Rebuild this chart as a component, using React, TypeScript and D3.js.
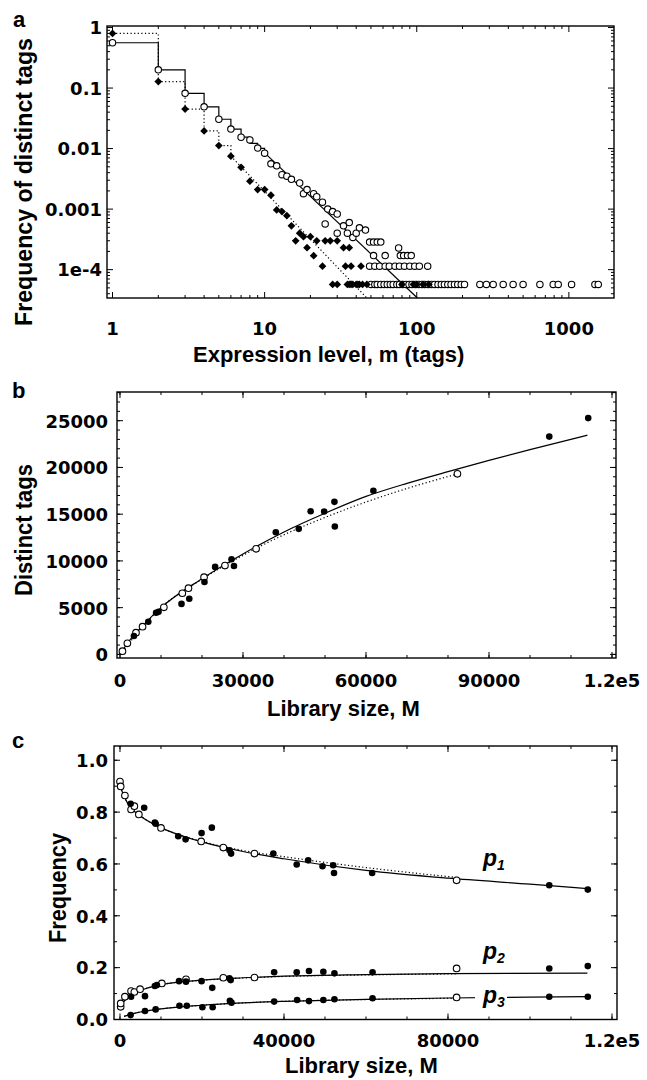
import React from "react";
import * as d3 from "d3";

// ---------------- Panel a: frequency of distinct tags vs expression level ----------------
// open circles (one library), [m, frequency]
const openA: [number, number][] = [
  [1, 0.56], [2, 0.2], [3, 0.082], [4, 0.049], [5, 0.0305], [6, 0.021], [7, 0.0154], [8, 0.0139],
  [9, 0.0102], [10, 0.0084], [11, 0.0056], [12, 0.0052], [13, 0.0037], [14, 0.0035], [15, 0.0031],
  [17, 0.0027], [18, 0.0018], [19, 0.0021], [21, 0.0018], [22, 0.0016], [24, 0.0013], [25, 0.00057],
  [26, 0.001], [28, 0.00091], [30, 0.00083], [30, 0.0004], [33, 0.00053], [35, 0.0004], [36, 0.0006],
  [38, 0.00034], [40, 0.0004], [42, 0.00049], [46, 0.00045],
  [49, 0.000285], [52, 0.000285], [55, 0.000285], [58, 0.000285], [76, 0.000228],
  [52, 0.000171], [62, 0.000171], [78, 0.000171], [82, 0.000171], [87, 0.000171], [92, 0.000171],
  [49, 0.000114], [53, 0.000114], [57, 0.000114], [62, 0.000114], [66, 0.000114], [72, 0.000114],
  [77, 0.000114], [83, 0.000114], [90, 0.000114], [97, 0.000114], [104, 0.000114], [118, 0.000114],
];
// open circles seen exactly once (lowest level)
const singleLevel = 5.7e-5;
const openA1M = [
  50, 53, 55, 58, 61, 64, 67, 70, 74, 77, 81, 85, 89, 93, 98, 103, 108, 113, 119, 125, 131, 138, 145,
  152, 160, 168, 177, 186, 196, 206, 260, 287, 318, 370, 430, 500, 645, 789, 851, 1042, 1483, 1560,
];
// filled diamonds (other library), [m, frequency]
const filledA: [number, number][] = [
  [1, 0.8], [2, 0.128], [3, 0.045], [4, 0.0196], [5, 0.0112], [6, 0.0075], [7, 0.0049], [8, 0.0029],
  [9, 0.0021], [10, 0.0021], [11, 0.0017], [12, 0.00097], [13, 0.00091], [14, 0.00078], [15, 0.00053],
  [16, 0.0003], [17, 0.0004], [18, 0.00035], [19, 0.00023], [20, 0.00035], [21, 0.00017], [22, 0.0003],
  [25, 0.0003], [27, 0.0003], [30, 0.0003], [33, 0.00023], [36, 0.00023], [24, 0.000114],
  [34, 0.000114], [37, 0.000114], [43, 0.000114],
];
const filledA1M = [28, 30, 35, 36, 37, 38, 40, 41, 42, 44, 47, 80, 95, 100, 110, 120];

// model fits (stepped at small m, then straight power law)
const fitOpenStepM = [1, 2, 3, 4, 5, 6, 7, 8, 9, 10];
const fitOpenStepF = [0.56, 0.2, 0.082, 0.049, 0.0305, 0.021, 0.0155, 0.0122, 0.0101, 0.0085];
const fitOpenTail: [number, number][] = [[10, 0.0085], [101, 3.4e-5]];
const fitFilledStepM = [1, 2, 3, 4, 5, 6];
const fitFilledStepF = [0.8, 0.128, 0.045, 0.0196, 0.0112, 0.0075];
const fitFilledTail: [number, number][] = [[6, 0.0075], [47, 3.4e-5]];

const aXTicks = [1, 10, 100, 1000];
const aXLabels = ["1", "10", "100", "1000"];
const aYTicks = [1, 0.1, 0.01, 0.001, 0.0001];
const aYLabels = ["1", "0.1", "0.01", "0.001", "1e-4"];

// ---------------- Panel b: distinct tags vs library size ----------------
const filledB: [number, number][] = [
  [3400, 1970], [6900, 3500], [8800, 4450], [9400, 4550], [15000, 5400], [16900, 5960], [20600, 7750],
  [23200, 9360], [27200, 10180], [27800, 9460], [38000, 13070], [43600, 13430], [46500, 15320],
  [49800, 15280], [52300, 16320], [52400, 13680], [61800, 17500], [104700, 23300], [114200, 25280],
];
const openB: [number, number][] = [
  [600, 350], [1800, 1190], [3900, 2320], [5500, 2970], [10700, 5040], [15200, 6540], [16700, 7080],
  [20500, 8260], [25600, 9500], [33200, 11290], [82300, 19320],
];
const fitBSolidM = [0, 2000, 5000, 10000, 20000, 30000, 40000, 50000, 60000, 70000, 80000, 90000, 100000, 114000];
const fitBSolidD = [0, 1300, 2800, 5000, 8100, 10750, 13100, 15100, 16900, 18300, 19550, 20750, 21900, 23450];
const fitBDotM = [0, 10000, 20000, 30000, 40000, 50000, 60000, 70000, 82300];
const fitBDotD = [0, 5000, 8050, 10600, 12800, 14650, 16300, 17750, 19300];

const bXTicks = [0, 30000, 60000, 90000, 120000];
const bXLabels = ["0", "30000", "60000", "90000", "1.2e5"];
const bYTicks = [0, 5000, 10000, 15000, 20000, 25000];

// ---------------- Panel c: frequencies p1, p2, p3 vs library size ----------------
const p1Open: [number, number][] = [
  [0, 0.918], [170, 0.899], [1200, 0.864], [2700, 0.81], [3500, 0.823], [4600, 0.791], [10000, 0.739],
  [19800, 0.687], [25200, 0.663], [32800, 0.64], [82100, 0.537],
];
const p1Filled: [number, number][] = [
  [2600, 0.832], [5900, 0.817], [8500, 0.76], [8700, 0.755], [14200, 0.707], [16000, 0.695],
  [19900, 0.719], [22400, 0.74], [26700, 0.653], [27100, 0.64], [37400, 0.64], [43100, 0.598],
  [45900, 0.614], [49400, 0.591], [52000, 0.595], [52200, 0.565], [61500, 0.565], [104700, 0.518],
  [114100, 0.501],
];
const p2Open: [number, number][] = [
  [170, 0.049], [170, 0.062], [1200, 0.088], [2700, 0.11], [3500, 0.106], [4900, 0.117], [10200, 0.139],
  [16100, 0.155], [25200, 0.161], [32800, 0.162], [82100, 0.197],
];
const p2Filled: [number, number][] = [
  [2700, 0.088], [6100, 0.09], [8500, 0.129], [9000, 0.133], [14400, 0.148], [16100, 0.146],
  [19900, 0.148], [22500, 0.122], [26700, 0.159], [27000, 0.152], [37600, 0.182], [43100, 0.182],
  [46100, 0.187], [49600, 0.184], [52300, 0.178], [61600, 0.182], [104700, 0.197], [114100, 0.206],
];
const p3Open: [number, number][] = [[82100, 0.085]];
const p3Filled: [number, number][] = [
  [2600, 0.017], [6100, 0.033], [8700, 0.039], [14500, 0.053], [16300, 0.053], [20100, 0.047],
  [22600, 0.047], [26800, 0.072], [27200, 0.065], [37600, 0.069], [43200, 0.075], [46100, 0.071],
  [49600, 0.075], [52300, 0.078], [61600, 0.082], [104700, 0.088], [114100, 0.088],
];
const p1SolidM = [0, 2000, 5000, 10000, 20000, 30000, 40000, 60000, 80000, 100000, 114000];
const p1SolidV = [0.9, 0.83, 0.785, 0.74, 0.685, 0.648, 0.62, 0.575, 0.545, 0.522, 0.505];
const p1DotM = [0, 2000, 5000, 10000, 20000, 30000, 40000, 50000, 60000, 70000, 82100];
const p1DotV = [0.9, 0.83, 0.785, 0.74, 0.687, 0.652, 0.628, 0.606, 0.586, 0.568, 0.548];
const p2SolidM = [0, 2000, 5000, 10000, 20000, 30000, 40000, 60000, 80000, 114000];
const p2SolidV = [0.05, 0.088, 0.112, 0.134, 0.152, 0.161, 0.167, 0.173, 0.177, 0.179];
const p2DotM = [0, 2000, 5000, 10000, 20000, 30000, 40000, 60000, 82100];
const p2DotV = [0.05, 0.088, 0.112, 0.134, 0.151, 0.16, 0.166, 0.172, 0.176];
const p3SolidM = [1000, 3000, 5000, 10000, 20000, 30000, 40000, 60000, 80000, 100000, 114000];
const p3SolidV = [0.012, 0.022, 0.029, 0.041, 0.055, 0.064, 0.07, 0.078, 0.083, 0.086, 0.088];
const p3DotM = [1000, 3000, 5000, 10000, 20000, 30000, 40000, 60000, 82100];
const p3DotV = [0.012, 0.022, 0.029, 0.041, 0.055, 0.064, 0.07, 0.077, 0.082];

const cXTicks = [0, 40000, 80000, 120000];
const cXLabels = ["0", "40000", "80000", "1.2e5"];
const cYTicks = [0, 0.2, 0.4, 0.6, 0.8, 1.0];
const cYLabels = ["0.0", "0.2", "0.4", "0.6", "0.8", "1.0"];

// ---------------- scales ----------------
const xA = d3.scaleLog().domain([0.92, 1980]).range([107, 614]);
const yA = d3.scaleLog().domain([3.4e-5, 1.06]).range([298, 26]);
const xB = d3.scaleLinear().domain([-730, 120975]).range([117, 616]);
const yB = d3.scaleLinear().domain([-385, 28070]).range([658, 392]);
const xC = d3.scaleLinear().domain([-1460, 121220]).range([114, 617]);
const yC = d3.scaleLinear().domain([0, 1.055]).range([1019.5, 746]);

const TICK_FONT = "'DejaVu Sans', Verdana, sans-serif";
const TITLE_FONT = "'Liberation Sans', Arial, Helvetica, sans-serif";

function logMinors(domain: number[]) {
  const out: number[] = [];
  for (let k = -6; k <= 4; k++) {
    for (let d = 2; d <= 9; d++) {
      const v = d * Math.pow(10, k);
      if (v >= domain[0] && v <= domain[1]) out.push(v);
    }
  }
  return out;
}
function linMinors(domain: number[], step: number) {
  const out: number[] = [];
  const start = Math.ceil(domain[0] / step) * step;
  for (let v = start; v <= domain[1]; v += step) out.push(v);
  return out;
}

function Frame({ x, y, xMajor, xMinor, yMajor, yMinor }: any) {
  const [x0, x1] = x.range();
  const [yb, yt] = y.range();
  const els: any[] = [];
  const add = (k: string, a: number, b: number, c: number, d: number, w = 1) =>
    els.push(<line key={k} x1={a} y1={b} x2={c} y2={d} stroke="#000" strokeWidth={w} />);
  xMajor.forEach((v: number, i: number) => {
    const p = x(v);
    add("xM" + i, p, yb, p, yb - 6);
    add("xMt" + i, p, yt, p, yt + 6);
  });
  xMinor.forEach((v: number, i: number) => {
    const p = x(v);
    add("xm" + i, p, yb, p, yb - 3);
    add("xmt" + i, p, yt, p, yt + 3);
  });
  yMajor.forEach((v: number, i: number) => {
    const p = y(v);
    add("yM" + i, x0, p, x0 + 6, p);
    add("yMr" + i, x1, p, x1 - 6, p);
  });
  yMinor.forEach((v: number, i: number) => {
    const p = y(v);
    add("ym" + i, x0, p, x0 + 3, p);
    add("ymr" + i, x1, p, x1 - 3, p);
  });
  return (
    <g>
      <rect x={x0} y={yt} width={x1 - x0} height={yb - yt} fill="none" stroke="#000" strokeWidth={1.4} />
      {els}
    </g>
  );
}

const solid = { fill: "none", stroke: "#000", strokeWidth: 1.2 };
const dotted = { fill: "none", stroke: "#000", strokeWidth: 1.2, strokeDasharray: "1.2 2.4" };

function OpenDots({ data, x, y, r = 3.3 }: any) {
  return (
    <g>
      {data.map((d: number[], i: number) => (
        <circle key={i} cx={x(d[0])} cy={y(d[1])} r={r} fill="#fff" stroke="#000" strokeWidth={1.1} />
      ))}
    </g>
  );
}
function FilledDots({ data, x, y, r = 3.3 }: any) {
  return (
    <g>
      {data.map((d: number[], i: number) => (
        <circle key={i} cx={x(d[0])} cy={y(d[1])} r={r} fill="#000" />
      ))}
    </g>
  );
}

export default function App() {
  const zip = (a: number[], b: number[]) => a.map((v, i) => [v, b[i]] as [number, number]);

  // panel a paths
  const stepA = d3.line<[number, number]>().x((d) => xA(d[0])).y((d) => yA(d[1])).curve(d3.curveStepAfter);
  const linA = d3.line<[number, number]>().x((d) => xA(d[0])).y((d) => yA(d[1]));
  const diamond = d3.symbol().type(d3.symbolSquare).size(30)() as string;
  const openA1 = openA1M.map((m) => [m, singleLevel]);
  const filledA1 = filledA1M.map((m) => [m, singleLevel]);
  const allFilledA = [...filledA, ...filledA1];

  const linB = d3.line<[number, number]>().x((d) => xB(d[0])).y((d) => yB(d[1])).curve(d3.curveMonotoneX);
  const linC = d3.line<[number, number]>().x((d) => xC(d[0])).y((d) => yC(d[1])).curve(d3.curveMonotoneX);

  const tickText = { fontFamily: TICK_FONT, fontWeight: 700, fontSize: 18 } as any;
  const titleText = { fontFamily: TITLE_FONT, fontWeight: 700, fontSize: 22 } as any;
  const yTitleText = { fontFamily: TITLE_FONT, fontWeight: 700, fontSize: 24 } as any;
  const pText = { fontFamily: TITLE_FONT, fontWeight: 700, fontStyle: "italic", fontSize: 23 } as any;

  return (
    <svg
      width={647}
      height={1080}
      viewBox="0 0 647 1080"
      style={{ position: "absolute", left: 0, top: 0, display: "block", background: "#fff" }}
    >
      <rect x={0} y={0} width={647} height={1080} fill="#fff" />

      {/* ================= Panel a ================= */}
      <text x={13} y={27} style={titleText}>a</text>
      <text
        transform="translate(32,182) rotate(-90)"
        textAnchor="middle"
        textLength={288}
        lengthAdjust="spacingAndGlyphs"
        style={yTitleText}
      >
        Frequency of distinct tags
      </text>
      <Frame
        x={xA}
        y={yA}
        xMajor={aXTicks}
        xMinor={logMinors(xA.domain())}
        yMajor={aYTicks}
        yMinor={logMinors(yA.domain())}
      />
      <path d={stepA(zip(fitOpenStepM, fitOpenStepF)) as string} {...solid} />
      <path d={linA(fitOpenTail) as string} {...solid} />
      <path d={stepA(zip(fitFilledStepM, fitFilledStepF)) as string} {...dotted} />
      <path d={linA(fitFilledTail) as string} {...dotted} />
      <OpenDots data={[...openA, ...openA1]} x={xA} y={yA} r={3.2} />
      <g>
        {allFilledA.map((d, i) => (
          <path
            key={i}
            d={diamond}
            transform={`translate(${xA(d[0])},${yA(d[1])}) rotate(45)`}
            fill="#000"
          />
        ))}
      </g>
      {aXTicks.map((v, i) => (
        <text key={i} x={xA(v)} y={335} textAnchor="middle" style={tickText}>{aXLabels[i]}</text>
      ))}
      {aYTicks.map((v, i) => (
        <text key={i} x={102} y={yA(v)} dy="0.38em" textAnchor="end" style={tickText}>{aYLabels[i]}</text>
      ))}
      <text x={193} y={362} style={titleText}>Expression level, m (tags)</text>

      {/* ================= Panel b ================= */}
      <text x={12} y={398} style={titleText}>b</text>
      <text
        transform="translate(32,530) rotate(-90)"
        textAnchor="middle"
        textLength={132}
        lengthAdjust="spacingAndGlyphs"
        style={yTitleText}
      >
        Distinct tags
      </text>
      <Frame
        x={xB}
        y={yB}
        xMajor={bXTicks}
        xMinor={linMinors(xB.domain(), 10000)}
        yMajor={bYTicks}
        yMinor={linMinors(yB.domain(), 1000)}
      />
      <path d={linB(zip(fitBDotM, fitBDotD)) as string} {...dotted} />
      <path d={linB(zip(fitBSolidM, fitBSolidD)) as string} {...solid} />
      <OpenDots data={openB} x={xB} y={yB} />
      <FilledDots data={filledB} x={xB} y={yB} />
      {bXTicks.map((v, i) => (
        <text key={i} x={xB(v)} y={687} textAnchor="middle" style={tickText}>{bXLabels[i]}</text>
      ))}
      {bYTicks.map((v, i) => (
        <text key={i} x={108} y={yB(v)} dy="0.38em" textAnchor="end" style={tickText}>{String(v)}</text>
      ))}
      <text x={267} y={716} style={titleText}>Library size, M</text>

      {/* ================= Panel c ================= */}
      <text x={12} y={748} style={titleText}>c</text>
      <text
        transform="translate(66,888) rotate(-90)"
        textAnchor="middle"
        textLength={110}
        lengthAdjust="spacingAndGlyphs"
        style={yTitleText}
      >
        Frequency
      </text>
      <Frame
        x={xC}
        y={yC}
        xMajor={cXTicks}
        xMinor={linMinors(xC.domain(), 10000)}
        yMajor={cYTicks}
        yMinor={linMinors(yC.domain(), 0.1)}
      />
      <path d={linC(zip(p1DotM, p1DotV)) as string} {...dotted} />
      <path d={linC(zip(p1SolidM, p1SolidV)) as string} {...solid} />
      <path d={linC(zip(p2DotM, p2DotV)) as string} {...dotted} />
      <path d={linC(zip(p2SolidM, p2SolidV)) as string} {...solid} />
      <path d={linC(zip(p3DotM, p3DotV)) as string} {...dotted} />
      <path d={linC(zip(p3SolidM, p3SolidV)) as string} {...solid} />
      <OpenDots data={[...p1Open, ...p2Open, ...p3Open]} x={xC} y={yC} />
      <FilledDots data={[...p1Filled, ...p2Filled, ...p3Filled]} x={xC} y={yC} />
      <text x={483} y={866} style={pText}>
        p<tspan fontSize={14} dy={4}>1</tspan>
      </text>
      <text x={483} y={959} style={pText}>
        p<tspan fontSize={14} dy={4}>2</tspan>
      </text>
      <rect x={475} y={989} width={32} height={18} fill="#fff" />
      <text x={483} y={1003} style={pText}>
        p<tspan fontSize={14} dy={4}>3</tspan>
      </text>
      {cXTicks.map((v, i) => (
        <text key={i} x={xC(v)} y={1047} textAnchor="middle" style={tickText}>{cXLabels[i]}</text>
      ))}
      {cYTicks.map((v, i) => (
        <text key={i} x={108} y={yC(v)} dy="0.38em" textAnchor="end" style={tickText}>{cYLabels[i]}</text>
      ))}
      <text x={285} y={1073} style={titleText}>Library size, M</text>
    </svg>
  );
}
